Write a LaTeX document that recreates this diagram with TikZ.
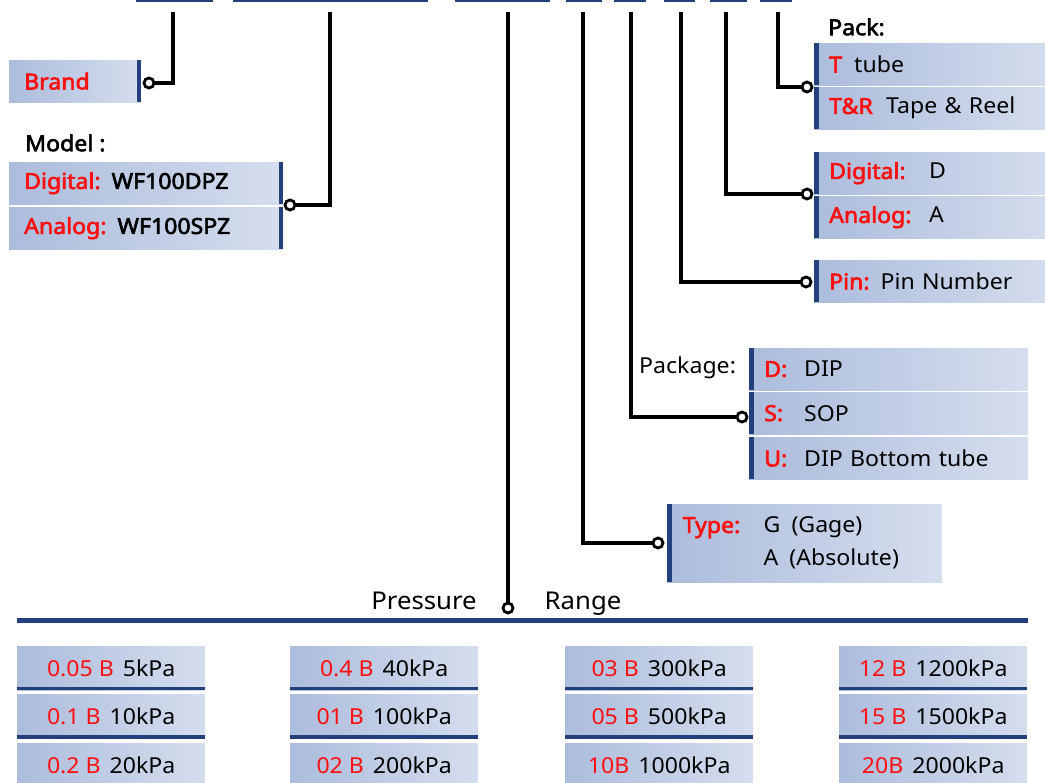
\documentclass[tikz,border=0pt]{standalone}
\usepackage{fontspec}
\setmainfont{Noto Sans}[AutoFakeBold=2.8,FakeStretch=1.05]
\usetikzlibrary{calc}
\definecolor{kblue}{RGB}{36, 64,124}
\definecolor{kred} {RGB}{250, 16, 16}
\definecolor{bdark}{RGB}{172,188,220}
\definecolor{blite}{RGB}{213,222,238}
\newcommand{\kr}[1]{\textcolor{kred}{\bfseries #1}}
\tikzset{
  % Gradient field box, left aligned text
  GB/.style={rectangle,left color=bdark,right color=blite,draw=none,
             text width=#1,align=left,inner xsep=15pt,inner ysep=0pt,
             minimum height=42pt,anchor=north west},
  GB/.default=200pt,
  % Blue bar on the left / right edge
  BL/.style={path picture={\fill[kblue] (path picture bounding box.south west)
             rectangle ([xshift=4.5pt]path picture bounding box.north west);}},
  BR/.style={path picture={\fill[kblue] (path picture bounding box.south east)
             rectangle ([xshift=-4.5pt]path picture bounding box.north east);}},
  % Range box with a rule at the bottom
  RG/.style={rectangle,left color=bdark,right color=blite,draw=none,
             minimum width=188pt,minimum height=44pt,inner sep=0pt,
             anchor=north west,align=center,
             path picture={\fill[kblue] (path picture bounding box.south west)
             rectangle ([yshift=3.5pt]path picture bounding box.south east);}},
  % Open dot at the end of a lead
  Dot/.style={circle,draw=black,fill=white,line width=2.8pt,
              minimum size=10pt,inner sep=0pt},
  Wire/.style={line width=3.4pt,color=black},
  Head/.style={anchor=west,inner sep=0pt},
}
\begin{document}
\begin{tikzpicture}[x=1pt,y=-1pt,font=\fontsize{22}{33}\selectfont]
  \useasboundingbox (0,0) rectangle (1045,783);
  \clip (0,0) rectangle (1045,783);
  % Code fields along the top edge
  \foreach \a/\b in {136/213,233/428,455/550,566/602,614/646,664/695,710/747,760/792}
    \fill[kblue] (\a,-3) rectangle (\b,2.5);
  % Brand and model, left side
  \node[GB=102pt,BR] at (9,60) (brand) {\kr{Brand}};
  \node[Head,font=\fontsize{22}{33}\selectfont\bfseries] at (25,143) (modhd) {Model :};
  \node[GB=244pt,BR] at (9,162) (mdig) {\kr{Digital:} \textbf{WF100DPZ}};
  \node[GB=244pt,BR] at (9,207) (mana) {\kr{Analog:} \textbf{WF100SPZ}};
  % Pack
  \node[Head,font=\fontsize{22}{33}\selectfont\bfseries] at (828,27) (packhd) {Pack:};
  \node[GB=212pt,BL] at (814,43) (pkt)  {\makebox[25pt][l]{\kr{T}}tube};
  \node[GB=212pt,BL] at (814,87) (pktr) {\makebox[57pt][l]{\kr{T\&R}}Tape \& Reel};
  % Output
  \node[GB=212pt,BL] at (814,152) (odig) {\makebox[100pt][l]{\kr{Digital:}}D};
  \node[GB=212pt,BL] at (814,196) (oana) {\makebox[100pt][l]{\kr{Analog:}}A};
  % Pins
  \node[GB=212pt,BL] at (814,260) (pin) {\kr{Pin:} Pin Number};
  % Package
  \node[Head] at (639,368) (pkghd) {Package:};
  \node[GB=249pt,BL] at (749,348) (pkd) {\makebox[40pt][l]{\kr{D:}}DIP};
  \node[GB=249pt,BL] at (749,392) (pks) {\makebox[40pt][l]{\kr{S:}}SOP};
  \node[GB=249pt,BL] at (749,437) (pku) {\makebox[40pt][l]{\kr{U:}}DIP Bottom tube};
  % Type
  \node[GB=244pt,BL,minimum height=78pt,inner xsep=15.5pt] at (667,504) (type)
        {\makebox[81pt][l]{\kr{Type:}}G\enspace(Gage)\\
         \hspace*{81pt}A\enspace(Absolute)};
  % Dots
  \node[Dot] at (149,83)  (obr) {};
  \node[Dot] at (290,205) (omd) {};
  \node[Dot] at (807,87)  (opk) {};
  \node[Dot] at (807,194) (oda) {};
  \node[Dot] at (806,282) (opn) {};
  \node[Dot] at (742,417) (opg) {};
  \node[Dot] at (658,543) (oty) {};
  \node[Dot] at (508,608) (opr) {};
  % Lead tops
  \coordinate (tbr) at (173,12);
  \coordinate (tmd) at (330,12);
  \coordinate (tpr) at (508,12);
  \coordinate (tty) at (583,12);
  \coordinate (tpg) at (631,12);
  \coordinate (tpn) at (681,12);
  \coordinate (tda) at (726,12);
  \coordinate (tpk) at (778,12);
  % Leads
  \draw[Wire] (obr.east) -| (tbr);
  \draw[Wire] (omd.east) -| (tmd);
  \draw[Wire] (opk.west) -| (tpk);
  \draw[Wire] (oda.west) -| (tda);
  \draw[Wire] (opn.west) -| (tpn);
  \draw[Wire] (opg.west) -| (tpg);
  \draw[Wire] (oty.west) -| (tty);
  \draw[Wire] (tpr) -- (opr.north);
  % Pressure range
  \node[font=\fontsize{24.5}{30}\selectfont,anchor=base] at (424,609) (prs) {Pressure};
  \node[font=\fontsize{24.5}{30}\selectfont,anchor=base] at (583,609) (rng) {Range};
  \fill[kblue] (17,618) rectangle (1028,622.5);
  \foreach \x/\y/\k/\v/\n in {
      17/646/0.05 B/5kPa/r11,  17/694.5/0.1 B/10kPa/r12,  17/743/0.2 B/20kPa/r13,
      290/646/0.4 B/40kPa/r21, 290/694.5/01 B/100kPa/r22, 290/743/02 B/200kPa/r23,
      565/646/03 B/300kPa/r31, 565/694.5/05 B/500kPa/r32, 565/743/10B/1000kPa/r33,
      839/646/12 B/1200kPa/r41,839/694.5/15 B/1500kPa/r42,839/743/20B/2000kPa/r43}
    \node[RG] at (\x,\y) (\n) {\textcolor{kred}{\k}\hspace{9pt}\v};
\end{tikzpicture}
\end{document}
